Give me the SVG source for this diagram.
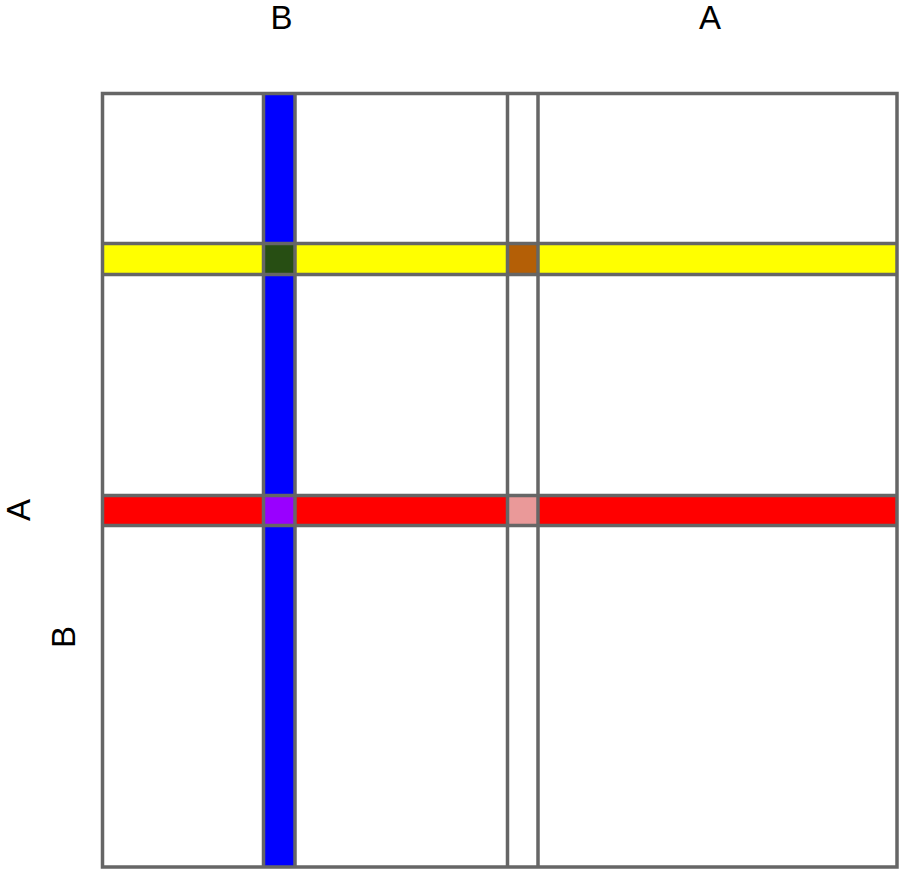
<svg xmlns="http://www.w3.org/2000/svg" width="899" height="869" viewBox="0 0 899 869">
  <style>
    .lbl { font-family: "Liberation Sans", Arial, sans-serif; font-size: 33px; fill: #000; }
    .grid { fill: none; stroke: #666666; stroke-width: 3.5; }
  </style>
  <rect x="0" y="0" width="899" height="869" fill="#ffffff"/>

  <!-- axis labels -->
  <g id="labels">
    <text class="lbl" x="281.5" y="29" text-anchor="middle">B</text>
    <text class="lbl" x="710" y="29" text-anchor="middle">A</text>
    <text class="lbl" transform="translate(30,510) rotate(-90)" text-anchor="middle">A</text>
    <text class="lbl" transform="translate(75,637) rotate(-90)" text-anchor="middle">B</text>
  </g>

  <!-- coloured bands -->
  <g id="bands">
    <rect id="col-blue" x="263.5" y="93" width="31.5" height="774" fill="#0000ff"/>
    <rect id="row-yellow" x="104" y="243.5" width="792" height="31" fill="#ffff00"/>
    <rect id="row-red" x="104" y="495.5" width="792" height="30" fill="#ff0000"/>
  </g>

  <!-- band intersections -->
  <g id="cells">
    <rect id="cell-blue-yellow" x="263.5" y="243.5" width="31.5" height="31" fill="#274e13"/>
    <rect id="cell-gap-yellow" x="507.5" y="243.5" width="30.5" height="31" fill="#b45f06"/>
    <rect id="cell-blue-red" x="263.5" y="495.5" width="31.5" height="30" fill="#9900ff"/>
    <rect id="cell-gap-red" x="507.5" y="495.5" width="30.5" height="30" fill="#ea9999"/>
  </g>

  <!-- grid lines -->
  <g id="grid" class="grid">
    <rect x="102.5" y="93.5" width="794.5" height="773.5"/>
    <line x1="263.5" y1="93" x2="263.5" y2="867"/>
    <line x1="295" y1="93" x2="295" y2="867"/>
    <line x1="507.5" y1="93" x2="507.5" y2="867"/>
    <line x1="538" y1="93" x2="538" y2="867"/>
    <line x1="102" y1="243.5" x2="897" y2="243.5"/>
    <line x1="102" y1="274.5" x2="897" y2="274.5"/>
    <line x1="102" y1="495.5" x2="897" y2="495.5"/>
    <line x1="102" y1="525.5" x2="897" y2="525.5"/>
  </g>
</svg>
